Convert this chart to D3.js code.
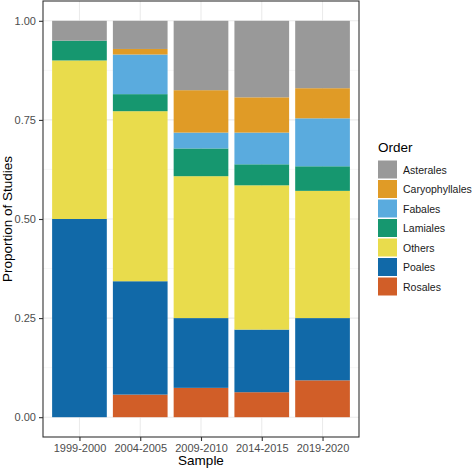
<!DOCTYPE html>
<html>
<head>
<style>
  body { margin: 0; background: #fff; }
  text { font-family: "Liberation Sans", Arial, sans-serif; }
</style>
</head>
<body>
<div id="viz"></div>
<script src="https://d3js.org/d3.v7.min.js"></script>
<script>
  // samples along x
  const samples = ["1999-2000", "2004-2005", "2009-2010", "2014-2015", "2019-2020"];

  // proportion of studies per order, one value per sample
  const asterales      = [0.050, 0.071, 0.175, 0.193, 0.170];
  const caryophyllales = [0.000, 0.014, 0.107, 0.089, 0.076];
  const fabales        = [0.000, 0.100, 0.040, 0.080, 0.121];
  const lamiales       = [0.050, 0.043, 0.070, 0.053, 0.062];
  const others         = [0.400, 0.429, 0.358, 0.364, 0.321];
  const poales         = [0.500, 0.286, 0.176, 0.158, 0.157];
  const rosales        = [0.000, 0.057, 0.074, 0.063, 0.093];

  const orders = ["Asterales", "Caryophyllales", "Fabales", "Lamiales", "Others", "Poales", "Rosales"];
  const colors = ["#999999", "#E09B26", "#5AABDE", "#16976F", "#E9DC4C", "#1169A8", "#D15E28"];
  const yTicks = [0, 0.25, 0.5, 0.75, 1];

  const series = [asterales, caryophyllales, fabales, lamiales, others, poales, rosales];

  const width = 474, height = 470;
  const pLeft = 43, pRight = 359, pTop = 1, pBottom = 437;

  const svg = d3.select("#viz").append("svg")
      .attr("width", width)
      .attr("height", height);

  // rows for the stack
  const rows = samples.map((s, i) => {
    const r = { sample: s };
    orders.forEach((o, j) => r[o] = series[j][i]);
    return r;
  });

  // ggplot stacks the first level on top, so the last one goes at the bottom
  const stack = d3.stack().keys(orders.slice().reverse());
  const layers = stack(rows);

  // discrete scale with 0.6 expansion on each side
  const step = (pRight - pLeft) / (samples.length - 1 + 1.2);
  const xCenter = d3.scalePoint()
      .domain(samples)
      .range([pLeft + 0.6 * step, pRight - 0.6 * step]);
  const barW = step * 0.9;

  const yScale = d3.scaleLinear()
      .domain([-0.05, 1.05])
      .range([pBottom, pTop]);

  const color = d3.scaleOrdinal().domain(orders).range(colors);

  // panel background + grid
  svg.append("rect")
      .attr("x", pLeft).attr("y", pTop)
      .attr("width", pRight - pLeft).attr("height", pBottom - pTop)
      .attr("fill", "#fff");

  const minor = [0.125, 0.375, 0.625, 0.875];
  svg.append("g").selectAll("line")
      .data(minor)
    .enter().append("line")
      .attr("x1", pLeft).attr("x2", pRight)
      .attr("y1", d => yScale(d)).attr("y2", d => yScale(d))
      .attr("stroke", "#f2f2f2").attr("stroke-width", 0.6);

  svg.append("g").selectAll("line")
      .data(yTicks)
    .enter().append("line")
      .attr("x1", pLeft).attr("x2", pRight)
      .attr("y1", d => yScale(d)).attr("y2", d => yScale(d))
      .attr("stroke", "#ebebeb").attr("stroke-width", 1.1);

  svg.append("g").selectAll("line")
      .data(samples)
    .enter().append("line")
      .attr("x1", d => xCenter(d)).attr("x2", d => xCenter(d))
      .attr("y1", pTop).attr("y2", pBottom)
      .attr("stroke", "#ebebeb").attr("stroke-width", 1.1);

  // bars
  svg.append("g").selectAll("g")
      .data(layers)
    .enter().append("g")
      .attr("fill", d => color(d.key))
    .selectAll("rect")
      .data(d => d)
    .enter().append("rect")
      .attr("x", d => xCenter(d.data.sample) - barW / 2)
      .attr("y", d => yScale(d[1]))
      .attr("width", barW)
      .attr("height", d => Math.max(0, yScale(d[0]) - yScale(d[1])));

  // panel border
  svg.append("rect")
      .attr("x", pLeft).attr("y", pTop)
      .attr("width", pRight - pLeft).attr("height", pBottom - pTop)
      .attr("fill", "none")
      .attr("stroke", "#333333").attr("stroke-width", 1.1);

  // axes
  const yAxis = d3.axisLeft(yScale)
      .tickValues(yTicks)
      .tickFormat(d3.format(".2f"))
      .tickSize(4).tickPadding(3);

  const gy = svg.append("g")
      .attr("transform", `translate(${pLeft},0)`)
      .call(yAxis);
  gy.select(".domain").remove();
  gy.selectAll(".tick line").attr("stroke", "#333333").attr("stroke-width", 1.1);
  gy.selectAll(".tick text").attr("fill", "#4d4d4d").style("font-size", "11px");

  const xAxis = d3.axisBottom(xCenter)
      .tickSize(4).tickPadding(3);

  const gx = svg.append("g")
      .attr("transform", `translate(0,${pBottom})`)
      .call(xAxis);
  gx.select(".domain").remove();
  gx.selectAll(".tick line").attr("stroke", "#333333").attr("stroke-width", 1.1);
  gx.selectAll(".tick text").attr("fill", "#4d4d4d").style("font-size", "11px");

  // axis titles
  svg.append("text")
      .attr("x", (pLeft + pRight) / 2).attr("y", 465)
      .attr("text-anchor", "middle")
      .style("font-size", "13.5px")
      .text("Sample");

  svg.append("text")
      .attr("transform", `translate(12,${(pTop + pBottom) / 2}) rotate(-90)`)
      .attr("text-anchor", "middle")
      .style("font-size", "13.5px")
      .text("Proportion of Studies");

  // legend
  const legend = svg.append("g").attr("transform", "translate(378,160)");

  legend.append("text")
      .attr("x", 0).attr("y", -8)
      .style("font-size", "13.5px")
      .text("Order");

  const keyStep = 19.5;
  const item = legend.selectAll("g")
      .data(orders)
    .enter().append("g")
      .attr("transform", (d, i) => `translate(0,${i * keyStep})`);

  item.append("rect")
      .attr("x", 0).attr("y", 0.5)
      .attr("width", 19).attr("height", keyStep - 1.5)
      .attr("fill", d => color(d));

  item.append("text")
      .attr("x", 25).attr("y", keyStep / 2 + 4)
      .style("font-size", "10.5px")
      .attr("fill", "#1a1a1a")
      .text(d => d);
</script>
</body>
</html>
